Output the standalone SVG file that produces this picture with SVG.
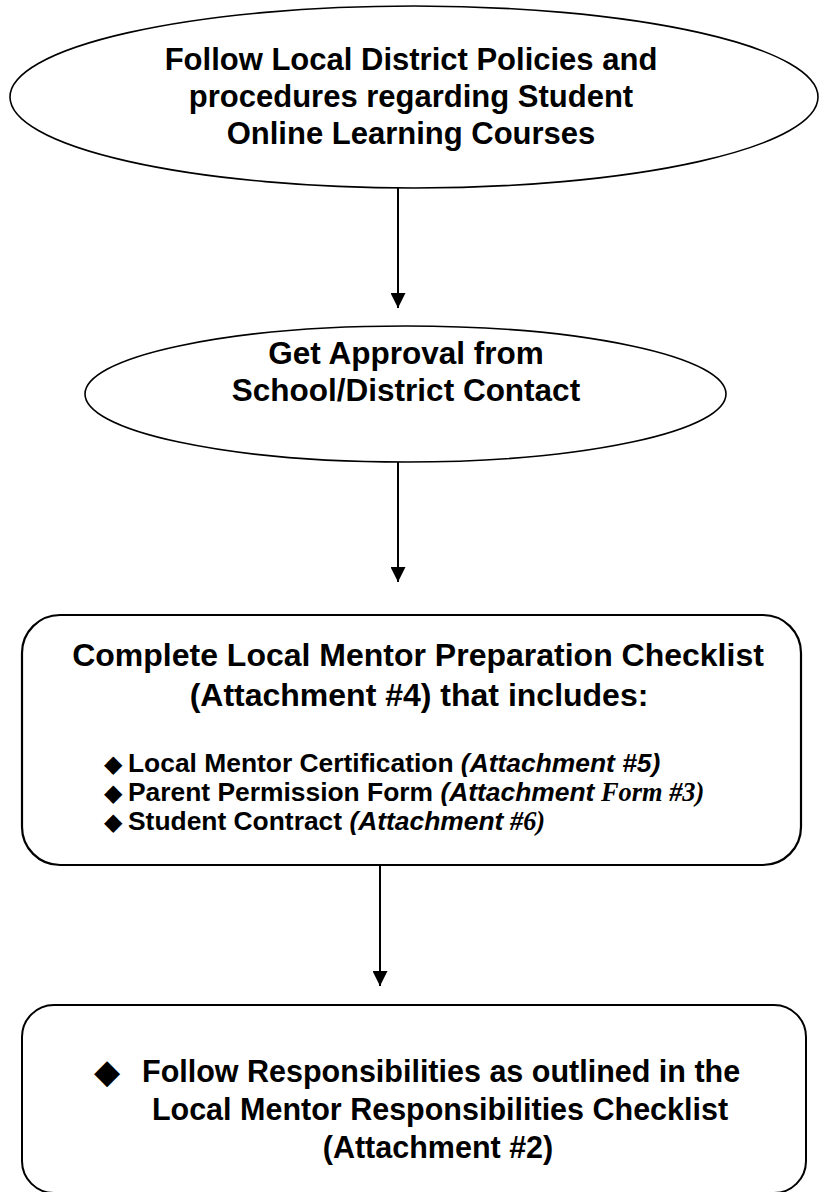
<svg xmlns="http://www.w3.org/2000/svg" width="823" height="1192" viewBox="0 0 823 1192">
<style>
.shape{fill:#fff;stroke:#000}
.t{font-family:"Liberation Sans",Arial,sans-serif;font-weight:bold;fill:#000}
.c{text-anchor:middle}
.sym{font-family:"DejaVu Sans",sans-serif;font-weight:normal;fill:#000}
.it{font-style:italic}
.ser{font-family:"Liberation Serif","Times New Roman",serif;font-style:italic;font-weight:bold}
.conn{stroke:#000;stroke-width:2;fill:none}
.b{font-size:26.4px}
</style>
<defs>
<marker id="arr" markerUnits="userSpaceOnUse" markerWidth="15" markerHeight="15" viewBox="0 0 15 15" refX="15" refY="7.5" orient="auto">
<path d="M0,0 L15,7.5 L0,15 z" fill="#000"/>
</marker>
</defs>
<g id="node1">
<ellipse class="shape" cx="414" cy="97" rx="404" ry="91" stroke-width="1.6"/>
<text class="t c" x="411" y="70" font-size="31">Follow Local District Policies and</text>
<text class="t c" x="411" y="107" font-size="31">procedures regarding Student</text>
<text class="t c" x="411" y="144" font-size="31">Online Learning Courses</text>
</g>
<g id="node2">
<ellipse class="shape" cx="405.5" cy="394" rx="320.5" ry="68" stroke-width="1.6"/>
<text class="t c" x="406" y="364" font-size="31.5">Get Approval from</text>
<text class="t c" x="406" y="401" font-size="31.5">School/District Contact</text>
</g>
<g id="node3">
<rect class="shape" x="22" y="615" width="779" height="250" rx="38" stroke-width="2.2"/>
<text class="t c" x="418" y="666" font-size="32">Complete Local Mentor Preparation Checklist</text>
<text class="t c" x="419" y="706" font-size="32">(Attachment #4) that includes:</text>
<text class="t b" x="104" y="772"><tspan class="sym" font-size="24">◆</tspan><tspan x="128">Local Mentor Certification </tspan><tspan class="it">(Attachment #5)</tspan></text>
<text class="t b" x="104" y="801"><tspan class="sym" font-size="24">◆</tspan><tspan x="128">Parent Permission Form </tspan><tspan class="it">(Attachment</tspan><tspan class="ser"> Form #3)</tspan></text>
<text class="t b" x="104" y="830"><tspan class="sym" font-size="24">◆</tspan><tspan x="128">Student Contract </tspan><tspan class="it">(Attachment</tspan><tspan class="ser"> #6)</tspan></text>
</g>
<g id="node4">
<rect class="shape" x="22" y="1005" width="784" height="188" rx="32" stroke-width="2"/>
<text class="sym" x="94" y="1083" font-size="34">◆</text>
<text class="t" x="142" y="1082" font-size="30.5">Follow Responsibilities as outlined in the</text>
<text class="t c" x="440" y="1120" font-size="30.5">Local Mentor Responsibilities Checklist</text>
<text class="t c" x="438" y="1158" font-size="30.5">(Attachment #2)</text>
</g>
<g id="connectors">
<line class="conn" x1="398" y1="188" x2="398" y2="308" marker-end="url(#arr)"/>
<line class="conn" x1="398" y1="462" x2="398" y2="582" marker-end="url(#arr)"/>
<line class="conn" x1="380" y1="865" x2="380" y2="986" marker-end="url(#arr)"/>
</g>
</svg>
